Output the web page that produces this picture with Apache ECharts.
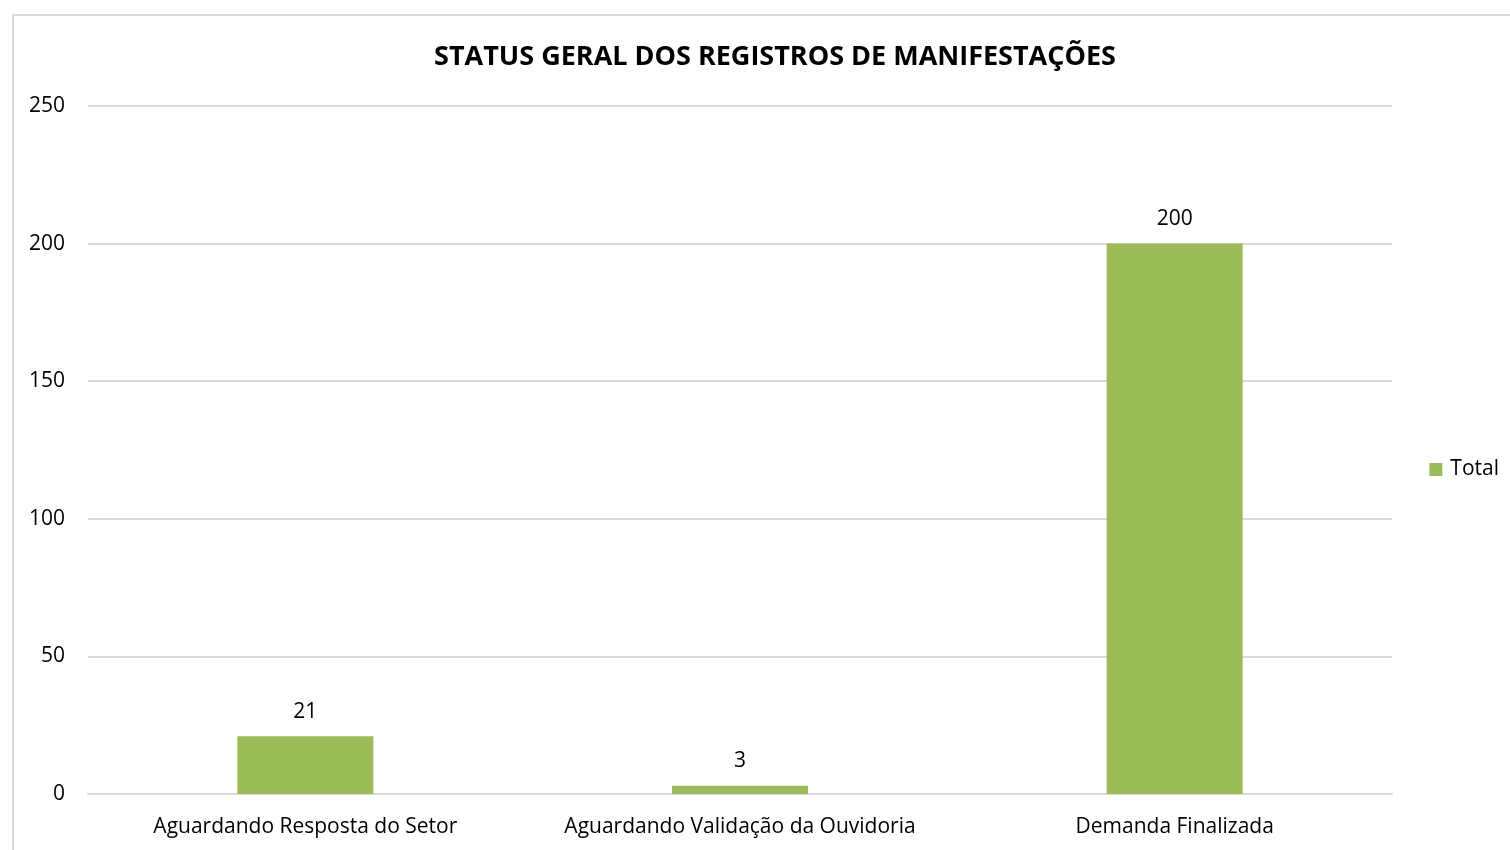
<!DOCTYPE html>
<html>
<head>
<meta charset="utf-8">
<script src="https://cdn.jsdelivr.net/npm/echarts@6/dist/echarts.min.js"></script>
<style>
  html, body { margin: 0; padding: 0; width: 1510px; height: 850px; overflow: hidden; background: #fff; }
  .frame { position: absolute; left: 12px; top: 14px; width: 1520px; height: 860px; border: 2px solid #d9d9d9; box-sizing: border-box; }
  #chart { position: absolute; left: 0; top: 0; width: 1510px; height: 850px; }
</style>
</head>
<body>
<div class="frame"></div>
<div id="chart"></div>
<script>
  // dados do gráfico
  var categorias = ['Aguardando Resposta do Setor', 'Aguardando Validação da Ouvidoria', 'Demanda Finalizada']
  var totais = [21, 3, 200]
  var nomeSerie = 'Total'

  var chart = echarts.init(document.getElementById('chart'))
  var fonte = '"Open Sans", "Noto Sans", sans-serif'
  chart.setOption({
    animation: false,
    textStyle: { fontFamily: fonte },
    title: {
      text: 'STATUS GERAL DOS REGISTROS DE MANIFESTAÇÕES',
      left: 770,
      textAlign: 'center',
      top: 39,
      textStyle: { fontSize: 27, fontWeight: 'bold', color: '#000', fontFamily: fonte }
    },
    legend: {
      right: 6,
      top: 454,
      orient: 'vertical',
      itemWidth: 13,
      itemHeight: 13,
      itemGap: 6,
      icon: 'rect',
      textStyle: { fontSize: 21, color: '#000', fontFamily: fonte, padding: [0, 0, 0, 3] },
      data: [nomeSerie]
    },
    grid: { left: 88, right: 118, top: 106, bottom: 56 },
    xAxis: {
      type: 'category',
      data: categorias,
      axisLine: { lineStyle: { color: '#d9d9d9', width: 2 } },
      axisTick: { show: false },
      axisLabel: { color: '#000', fontSize: 21, margin: 23, interval: 0, fontFamily: fonte }
    },
    yAxis: {
      type: 'value',
      min: 0,
      max: 250,
      interval: 50,
      axisLine: { show: false },
      axisTick: { show: false },
      axisLabel: { color: '#000', fontSize: 21, margin: 23, fontFamily: fonte },
      splitLine: { lineStyle: { color: '#d9d9d9', width: 2 } }
    },
    series: [{
      name: nomeSerie,
      type: 'bar',
      data: totais,
      barWidth: '31.3%',
      itemStyle: { color: '#9bbb59' },
      label: { show: true, position: 'top', distance: 14, color: '#000', fontSize: 21, fontFamily: fonte }
    }]
  })
</script>
</body>
</html>
